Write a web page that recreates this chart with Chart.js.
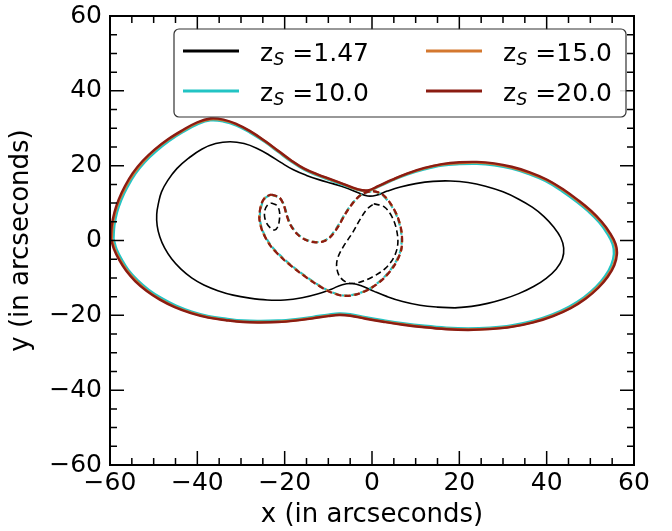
<!DOCTYPE html>
<html><head><meta charset="utf-8">
<script src="https://cdn.jsdelivr.net/npm/chart.js@4.4.0/dist/chart.umd.min.js"></script>
<style>html,body{margin:0;padding:0;background:#fff;}canvas{display:block;}</style>
</head><body>
<canvas id="c" width="672" height="531"></canvas>
<script>
// ---- tick values ----
const xTicks = [-60, -40, -20, 0, 20, 40, 60];
const yTicks = [-60, -40, -20, 0, 20, 40, 60];
const minorStep = 5;

// ---- legend ----
const legendLabels = ['1.47', '10.0', '15.0', '20.0'];
const seriesColors = ['#000000', '#22c4c4', '#d4782f', '#8b1c12'];

// ---- critical curves (solid) ----
const crit147X = [19,15,11,7,3.5,0.5,-2,-4.5,-6.8,-9.3,-12.5,-16,-20,-24,-28,-31.8,-35.3,-38.5,-41.3,-43.8,-45.9,-47.5,-48.6,-49.2,-49.3,-48.9,-48.2,-46.8,-44.7,-42,-39,-35.8,-32.5,-29.3,-26.3,-23.5,-20.8,-18,-15,-12,-9,-6,-3.3,-1,1,3.5,6.5,10,14,18,22,26,30,33.5,36.7,39.4,41.6,43.2,43.9,43.6,42.2,39.9,37,33.6,30,26.5,22.8,19];
const crit147Y = [-18,-17.8,-17.3,-16.3,-15,-13.6,-12.3,-11.5,-11.8,-13,-14.3,-15.3,-15.9,-15.9,-15.4,-14.6,-13.4,-11.9,-10,-7.6,-4.9,-2,1,4,7,10,13,16,19.2,22,24.4,25.9,26.4,25.9,24.6,22.8,20.8,18.9,17.4,16.2,15.2,14.1,12.8,11.9,12.1,13.2,14.3,15.2,15.8,15.9,15.5,14.5,13,11.1,8.9,6.4,3.6,0.8,-2,-4.9,-7.6,-10.1,-12.3,-14.2,-15.7,-16.8,-17.6,-18];

const crit10X = [-59.2,-59.0,-58.4,-57.4,-56.0,-54.2,-52.0,-49.4,-46.5,-43.3,-39.9,-37,-34,-31,-28,-24.5,-21.5,-18.5,-15.5,-12.5,-9.5,-6.5,-3.5,-1,1.5,4.5,8,12,16,20,24,28,32,35.8,39.7,43.6,46.8,49.6,52.0,53.8,55.1,55.4,54.8,53.4,51.3,48.5,45.1,41.2,36.8,31.9,27,22,17,12,7,2.5,-1.5,-5,-7.5,-10,-13.5,-17.5,-21.5,-25.5,-29.5,-33.4,-37.4,-41.3,-44.9,-48.2,-51.1,-53.7,-55.8,-57.3,-58.5,-59.2];
const crit10Y = [0.5,4,7.5,10.9,14.3,17.8,21.0,23.9,26.6,29.0,31.1,32.1,31.8,30.7,28.9,26.3,23.7,21.1,18.9,17.4,16.1,14.8,13.6,13.2,14.4,16.0,17.6,19.0,20.0,20.4,20.5,20.1,19.2,17.8,15.9,13.1,10.4,7.7,4.9,2,-1,-3.6,-6.5,-9.5,-12.4,-15.2,-17.7,-19.8,-21.5,-22.7,-23.3,-23.5,-23.3,-22.8,-22.1,-21.3,-20.5,-19.7,-19.5,-19.8,-20.4,-21.0,-21.4,-21.5,-21.4,-20.9,-20.2,-19.0,-17.4,-15.4,-13.2,-10.6,-7.9,-5.1,-2.3,0.5];

const crit15X = [-59.6,-59.4,-58.8,-57.8,-56.4,-54.6,-52.3,-49.7,-46.7,-43.4,-40,-37,-34,-31,-28,-24.5,-21.5,-18.5,-15.5,-12.5,-9.5,-6.5,-3.5,-1,1.5,4.5,8,12,16,20,24,28,32,35.9,39.9,43.9,47.1,50,52.4,54.3,55.6,55.9,55.3,53.8,51.6,48.8,45.4,41.4,36.9,32,27,22,17,12,7,2.5,-1.5,-5,-7.5,-10,-13.5,-17.5,-21.5,-25.5,-29.5,-33.5,-37.5,-41.4,-45.1,-48.5,-51.5,-54,-56.1,-57.7,-58.9,-59.6];
const crit15Y = [0.5,4,7.5,11,14.4,17.9,21.2,24.2,26.9,29.3,31.4,32.4,32.1,31,29.2,26.5,23.9,21.3,19.1,17.6,16.3,15,13.7,13.3,14.5,16.1,17.8,19.3,20.3,20.7,20.8,20.4,19.5,18.1,16.2,13.4,10.6,7.8,5,2,-1,-3.6,-6.6,-9.6,-12.6,-15.4,-18,-20.1,-21.8,-23,-23.6,-23.8,-23.6,-23.1,-22.4,-21.6,-20.8,-20,-19.8,-20.1,-20.7,-21.3,-21.7,-21.8,-21.7,-21.2,-20.5,-19.3,-17.7,-15.7,-13.4,-10.8,-8,-5.2,-2.3,0.5];

const crit20X = [-59.8,-59.6,-59,-58,-56.6,-54.8,-52.5,-49.8,-46.8,-43.5,-40,-37,-34,-31,-28,-24.5,-21.5,-18.5,-15.5,-12.5,-9.5,-6.5,-3.5,-1,1.5,4.5,8,12,16,20,24,28,32,36,40,44,47.3,50.2,52.6,54.5,55.8,56.1,55.5,54,51.8,49,45.5,41.5,37,32,27,22,17,12,7,2.5,-1.5,-5,-7.5,-10,-13.5,-17.5,-21.5,-25.5,-29.5,-33.5,-37.5,-41.5,-45.2,-48.6,-51.6,-54.2,-56.3,-57.9,-59.1,-59.8];
const crit20Y = [0.5,4,7.5,11,14.5,18,21.3,24.3,27,29.4,31.6,32.6,32.3,31.1,29.3,26.6,24,21.4,19.2,17.7,16.4,15.1,13.8,13.4,14.6,16.2,17.9,19.4,20.4,20.9,21,20.6,19.7,18.3,16.3,13.5,10.7,7.9,5,2,-1,-3.6,-6.6,-9.7,-12.7,-15.5,-18.1,-20.2,-21.9,-23.1,-23.7,-23.9,-23.7,-23.2,-22.5,-21.7,-20.9,-20.1,-19.9,-20.2,-20.8,-21.4,-21.8,-21.9,-21.8,-21.3,-20.6,-19.4,-17.8,-15.8,-13.5,-10.9,-8.1,-5.2,-2.3,0.5];

// ---- caustics (dashed) ----
const caus147aX = [-23.1,-21.8,-21.2,-21.2,-21.6,-22.3,-23.2,-24.1,-24.6,-24.5,-23.9,-23.1];
const caus147aY = [10,9.4,7.8,5.6,3.6,2.8,3.3,4.6,6.4,8.2,9.5,10];
const caus147bX = [0.4,2.8,4.5,5.6,5.9,5,3,0,-3,-5.3,-7.3,-8.1,-7.8,-6.5,-4.5,-2.8,-1.2,0.4];
const caus147bY = [9.8,9,6.5,3,-1,-4.5,-7.5,-9.8,-11.2,-11.4,-9.8,-7,-4.5,-1.5,2,5.5,8.3,9.8];

const caus10X = [-23.0,-21.2,-20.1,-19.5,-18.6,-17.1,-15.2,-13,-11,-9.4,-7.7,-6.1,-4.3,-2.4,0,2.2,4.2,5.8,6.7,6.6,5.1,2.7,-0.3,-3.5,-6.5,-9.5,-12.9,-16.9,-20.4,-23.1,-25,-25.7,-25.3,-24.4,-23.0];
const caus10Y = [12.2,11.4,9.4,6.9,4.2,1.8,0.3,-0.4,-0.1,1.3,4.1,7.3,10.2,12.3,13.1,12.3,9.7,6.2,2,-2.4,-6.4,-9.9,-12.7,-14.3,-14.7,-13.7,-11.4,-8.1,-4.7,-1.4,2.5,6,9.4,11.4,12.2];

const caus15X = [-23.1,-21.2,-20.2,-19.6,-18.7,-17.2,-15.3,-13,-11,-9.3,-7.6,-6,-4.2,-2.3,0,2.3,4.3,5.9,6.8,6.7,5.2,2.8,-0.3,-3.5,-6.5,-9.5,-13,-17,-20.5,-23.2,-25.1,-25.8,-25.4,-24.5,-23.1];
const caus15Y = [12.25,11.45,9.45,6.95,4.2,1.8,0.25,-0.45,-0.15,1.25,4.05,7.3,10.25,12.35,13.15,12.35,9.75,6.2,2,-2.45,-6.45,-9.95,-12.75,-14.35,-14.75,-13.75,-11.45,-8.15,-4.75,-1.45,2.5,6,9.45,11.45,12.25];

const caus20X = [-23.1,-21.2,-20.2,-19.6,-18.7,-17.2,-15.3,-13,-11,-9.3,-7.6,-6,-4.2,-2.3,0,2.3,4.3,5.9,6.8,6.7,5.2,2.8,-0.3,-3.5,-6.5,-9.5,-13,-17,-20.5,-23.2,-25.1,-25.8,-25.4,-24.5,-23.1];
const caus20Y = [12.3,11.5,9.5,7,4.2,1.8,0.2,-0.5,-0.2,1.2,4,7.3,10.3,12.4,13.2,12.4,9.8,6.2,2,-2.5,-6.5,-10,-12.8,-14.4,-14.8,-13.8,-11.5,-8.2,-4.8,-1.5,2.5,6,9.5,11.5,12.3];

const FONT = '"DejaVu Sans", "Liberation Sans", sans-serif';
function pts(xs, ys) { return xs.map((x, i) => ({ x: x, y: ys[i] })); }
function line(data, color, width, order, dash, tension) {
  return { data: data, showLine: true, borderColor: color, backgroundColor: color,
    borderWidth: width, pointRadius: 0, pointHoverRadius: 0, fill: false, tension: tension,
    order: order, borderDash: dash || [] };
}
const DASH = [6, 3.5];
const datasets = [
  line(pts(crit147X, crit147Y), seriesColors[0], 1.6, 6, null, 0.4),
  line(pts(caus147aX, caus147aY), seriesColors[0], 1.6, 6, DASH, 0.35),
  line(pts(caus147bX, caus147bY), seriesColors[0], 1.6, 6, DASH, 0.35),
  line(pts(crit10X, crit10Y), seriesColors[1], 2.4, 3, null, 0.4),
  line(pts(caus10X, caus10Y), seriesColors[1], 2.2, 3, DASH, 0.3),
  line(pts(crit15X, crit15Y), seriesColors[2], 2.4, 2, null, 0.4),
  line(pts(caus15X, caus15Y), seriesColors[2], 2.2, 2, DASH, 0.3),
  line(pts(crit20X, crit20Y), seriesColors[3], 2.4, 1, null, 0.4),
  line(pts(caus20X, caus20Y), seriesColors[3], 2.2, 1, DASH, 0.3)
];

function fmt(v) { return v < 0 ? '\u2212' + Math.abs(v) : String(v); }

const framePlugin = {
  id: 'frame',
  afterDatasetsDraw(chart) {
    const ctx = chart.ctx, a = chart.chartArea, xs = chart.scales.x, ys = chart.scales.y;
    ctx.save();
    ctx.strokeStyle = '#000';
    ctx.lineWidth = 1.5;
    for (let v = xTicks[0]; v <= xTicks[xTicks.length - 1]; v += minorStep) {
      const L = xTicks.includes(v) ? 14 : 7;
      const px = xs.getPixelForValue(v);
      ctx.beginPath();
      ctx.moveTo(px, a.bottom); ctx.lineTo(px, a.bottom - L);
      ctx.moveTo(px, a.top); ctx.lineTo(px, a.top + L);
      ctx.stroke();
    }
    for (let v = yTicks[0]; v <= yTicks[yTicks.length - 1]; v += minorStep) {
      const L = yTicks.includes(v) ? 14 : 7;
      const py = ys.getPixelForValue(v);
      ctx.beginPath();
      ctx.moveTo(a.left, py); ctx.lineTo(a.left + L, py);
      ctx.moveTo(a.right, py); ctx.lineTo(a.right - L, py);
      ctx.stroke();
    }
    ctx.lineWidth = 2;
    ctx.strokeRect(a.left, a.top, a.right - a.left, a.bottom - a.top);
    ctx.restore();
  },
  afterDraw(chart) {
    const ctx = chart.ctx, a = chart.chartArea;
    const bx = a.left + 64, by = a.top + 13, bw = a.right - 8 - bx, bh = 88;
    ctx.save();
    ctx.fillStyle = 'rgba(255,255,255,0.85)';
    ctx.strokeStyle = '#333';
    ctx.lineWidth = 1.2;
    ctx.beginPath();
    ctx.roundRect(bx, by, bw, bh, 5);
    ctx.fill(); ctx.stroke();
    const cols = [bx + 9, bx + 252];
    const rows = [by + 22, by + 62];
    legendLabels.forEach((lab, i) => {
      const cx = cols[Math.floor(i / 2)], cy = rows[i % 2];
      ctx.strokeStyle = seriesColors[i];
      ctx.lineWidth = 3;
      ctx.beginPath(); ctx.moveTo(cx, cy); ctx.lineTo(cx + 56, cy); ctx.stroke();
      ctx.fillStyle = '#000';
      ctx.textBaseline = 'alphabetic';
      ctx.textAlign = 'left';
      let tx = cx + 77;
      const base = cy + 9.5;
      ctx.font = '25px ' + FONT;
      ctx.fillText('z', tx, base);
      tx += ctx.measureText('z').width + 0.5;
      ctx.font = 'italic 17px ' + FONT;
      ctx.fillText('S', tx, base + 4);
      tx += ctx.measureText('S').width;
      ctx.font = '25px ' + FONT;
      ctx.fillText(' =' + lab, tx, base);
    });
    ctx.restore();
  }
};

new Chart(document.getElementById('c').getContext('2d'), {
  type: 'scatter',
  data: { datasets: datasets },
  options: {
    responsive: false, animation: false, devicePixelRatio: 1,
    layout: { padding: { left: 0, top: 16, right: 38, bottom: 0 } },
    plugins: { legend: { display: false }, tooltip: { enabled: false } },
    scales: {
      x: {
        type: 'linear', min: -60, max: 60,
        afterBuildTicks(s) { s.ticks = xTicks.map(v => ({ value: v })); },
        afterFit(s) { s.height = 66; s.paddingLeft = 0; s.paddingRight = 0; },
        ticks: { font: { family: FONT, size: 25 }, color: '#000', padding: 3, maxRotation: 0, autoSkip: false, callback: fmt },
        grid: { display: false, drawTicks: false }, border: { display: false },
        title: { display: true, text: 'x (in arcseconds)', color: '#000', font: { family: FONT, size: 26 }, padding: { top: 0, bottom: 0 } }
      },
      y: {
        type: 'linear', min: -60, max: 60,
        afterBuildTicks(s) { s.ticks = yTicks.map(v => ({ value: v })); },
        afterFit(s) { s.width = 110; s.paddingTop = 0; s.paddingBottom = 0; },
        ticks: { font: { family: FONT, size: 25 }, color: '#000', padding: 8, autoSkip: false, callback: fmt },
        grid: { display: false, drawTicks: false }, border: { display: false },
        title: { display: true, text: 'y (in arcseconds)', color: '#000', font: { family: FONT, size: 26 }, padding: { top: 6, bottom: 0 } }
      }
    }
  },
  plugins: [framePlugin]
});
</script>
</body></html>
